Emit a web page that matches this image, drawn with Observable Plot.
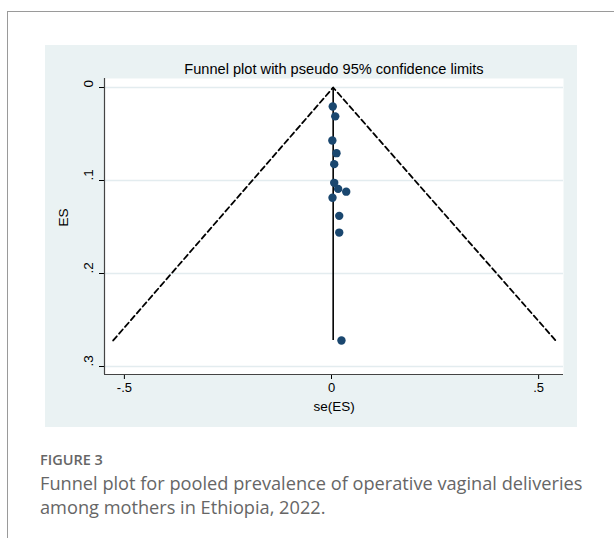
<!DOCTYPE html>
<html>
<head>
<meta charset="utf-8">
<script src="https://cdn.jsdelivr.net/npm/d3@7"></script>
<script src="https://cdn.jsdelivr.net/npm/@observablehq/plot@0.6"></script>
<style>
  html, body { margin:0; padding:0; background:#fff; width:614px; height:538px; overflow:hidden; }
  #frame { position:absolute; left:7px; top:11px; width:700px; height:600px; border-left:1.5px solid #9a9a9a; border-top:1.5px solid #9a9a9a; }
  #panel { position:absolute; left:45px; top:45px; width:532px; height:382px; background:#eaf2f3; }
  #panel svg { display:block; }
  #fig { position:absolute; left:40px; top:450px; font-family:"Open Sans", sans-serif; font-size:14.5px; font-weight:600; color:#666; }
  #cap { position:absolute; left:40px; top:471px; font-family:"Open Sans", sans-serif; font-size:18.2px; line-height:24px; color:#666; white-space:nowrap; }
</style>
</head>
<body>
<div id="frame"></div>
<div id="panel"></div>
<div id="fig">FIGURE 3</div>
<div id="cap">Funnel plot for pooled prevalence of operative vaginal deliveries<br>among mothers in Ethiopia, 2022.</div>
<script>
// Study points (x = se(ES) axis, y = ES axis as labelled)
const xValues = [0.003, 0.009, 0.002, 0.012, 0.0065, 0.0065, 0.016, 0.0355, 0.0024, 0.0186, 0.0186, 0.024];
const yValues = [0.0204, 0.031, 0.057, 0.0706, 0.0824, 0.1025, 0.109, 0.112, 0.1186, 0.138, 0.156, 0.272];
// Pseudo 95% confidence limit lines
const funnelX = [-0.527, 0.004, 0.541];
const funnelY = [0.272, 0, 0.272];
// Pooled estimate line
const pooledX = 0.004;
const pooledYEnd = 0.272;
// Ticks
const xTicks = [-0.5, 0, 0.5];
const yTicks = [0, 0.1, 0.2, 0.3];
const titleText = "Funnel plot with pseudo 95% confidence limits";
const xLabel = "se(ES)";
const yLabel = "ES";

const fmt = d => d === 0 ? "0" : String(d).replace(/^(-?)0\./, "$1.");
const points = xValues.map((x, i) => ({x, y: yValues[i]}));
const funnel = funnelX.map((x, i) => ({x, y: funnelY[i]}));
const xDom = [-0.548, 0.560];
const yDom = [-0.0097, 0.3086];
const font = "'Liberation Sans', Arial, sans-serif";

const chart = Plot.plot({
  width: 532, height: 382,
  marginLeft: 59, marginRight: 14, marginTop: 33, marginBottom: 53,
  style: {background: "transparent", fontFamily: font, fontSize: "13px", color: "#000"},
  x: {domain: xDom, ticks: xTicks, tickFormat: fmt, tickSize: 5, tickPadding: 3, label: null},
  y: {domain: yDom, reverse: true, ticks: yTicks, tickFormat: () => "", tickSize: 5, label: null},
  marks: [
    Plot.frame({fill: "white", stroke: null}),
    Plot.ruleY(yTicks, {stroke: "#e3ecef", strokeWidth: 1.5}),
    Plot.line(funnel, {x: "x", y: "y", stroke: "#000", strokeWidth: 1.8, strokeDasharray: "5.5,3.5"}),
    Plot.ruleX([pooledX], {y1: 0, y2: pooledYEnd, stroke: "#000", strokeWidth: 1.6}),
    Plot.dot(points, {x: "x", y: "y", r: 4.2, fill: "#1a476f", stroke: null}),
    Plot.ruleX([xDom[0]], {stroke: "#444", strokeWidth: 1.2}),
    Plot.ruleY([yDom[1]], {stroke: "#444", strokeWidth: 1.2}),
    Plot.text(yTicks, {y: d => d, text: fmt, frameAnchor: "left", lineAnchor: "middle", dx: -16, rotate: -90, fontSize: 13.5, fill: "#000"}),
    Plot.text([yLabel], {frameAnchor: "left", lineAnchor: "middle", dx: -41, rotate: -90, fontSize: 13.5, fill: "#000"}),
    Plot.text([xLabel], {frameAnchor: "bottom", lineAnchor: "middle", dy: 32, fontSize: 13.5, fill: "#000"}),
    Plot.text([titleText], {frameAnchor: "top", lineAnchor: "middle", dy: -9, fontSize: 14.6, fill: "#000"})
  ]
});
document.getElementById("panel").appendChild(chart);
</script>
</body>
</html>
